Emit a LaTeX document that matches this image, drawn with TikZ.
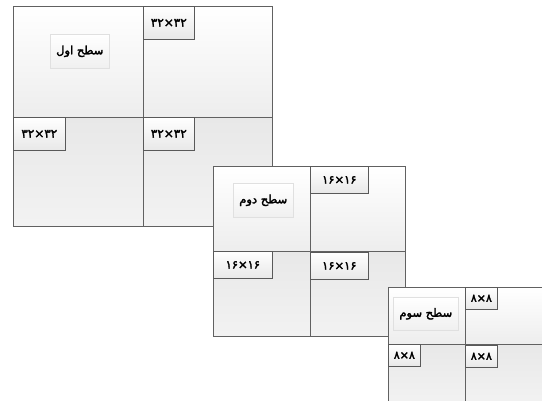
\documentclass[tikz,border=0pt]{standalone}
\usepackage{fontspec}
\newfontfamily\arabicfont[Script=Arabic,FakeBold=2.5]{DejaVu Sans}
\TeXXeTstate=1
\usetikzlibrary{shadows}
\begin{document}
\begin{tikzpicture}[x=1pt,y=-1pt,
  quadtop/.style={draw=black!62,line width=0.8pt,top color=white,bottom color=black!7,inner sep=0pt,anchor=north west},
  quadbot/.style={draw=black!62,line width=0.8pt,top color=black!9,bottom color=black!5,inner sep=0pt,anchor=north west},
  sizelbl/.style={draw=black!65,line width=0.7pt,top color=white,bottom color=black!9,inner sep=0pt,anchor=north west},
  levellbl/.style={draw=black!12,line width=0.6pt,top color=white,bottom color=black!6,inner sep=0pt,anchor=north west,font=\arabicfont\fontsize{11.5}{13}\selectfont,
    drop shadow={shadow xshift=1pt,shadow yshift=-1pt,opacity=0.12}},
  bigsz/.style={font=\arabicfont\fontsize{12}{14}\selectfont},
  midsz/.style={font=\arabicfont\fontsize{11.5}{13}\selectfont},
  smlsz/.style={font=\arabicfont\fontsize{11}{13}\selectfont}]
\useasboundingbox (0,0) rectangle (542,401);
\clip (0,0) rectangle (542,401);
% level 1
\node[quadtop,minimum width=130pt,minimum height=111pt] (a11) at (13,6) {};
\node[quadtop,minimum width=129pt,minimum height=111pt] (a12) at (143,6) {};
\node[quadbot,minimum width=130pt,minimum height=109pt] (a21) at (13,117) {};
\node[quadbot,minimum width=129pt,minimum height=109pt] (a22) at (143,117) {};
\node[levellbl,minimum width=59pt,minimum height=34pt] (l1) at (50,34) {\beginR سطح اول\endR};
\node[sizelbl,bigsz,minimum width=51pt,minimum height=33pt] (s11) at (143,6) {۳۲×۳۲};
\node[sizelbl,bigsz,minimum width=52pt,minimum height=33pt] (s12) at (13,117) {۳۲×۳۲};
\node[sizelbl,bigsz,minimum width=51pt,minimum height=33pt] (s13) at (143,117) {۳۲×۳۲};
% level 2
\node[quadtop,minimum width=97pt,minimum height=85pt] (b11) at (213,166) {};
\node[quadtop,minimum width=95pt,minimum height=85pt] (b12) at (310,166) {};
\node[quadbot,minimum width=97pt,minimum height=85pt] (b21) at (213,251) {};
\node[quadbot,minimum width=95pt,minimum height=85pt] (b22) at (310,251) {};
\node[levellbl,minimum width=60pt,minimum height=34pt] (l2) at (233,183) {\beginR سطح دوم\endR};
\node[sizelbl,midsz,minimum width=58pt,minimum height=27pt] (s21) at (310,166) {۱۶×۱۶};
\node[sizelbl,midsz,minimum width=59pt,minimum height=27pt] (s22) at (213,251) {۱۶×۱۶};
\node[sizelbl,midsz,minimum width=58pt,minimum height=27pt] (s23) at (310,252) {۱۶×۱۶};
% level 3
\node[quadtop,minimum width=77pt,minimum height=57pt] (c11) at (388,287) {};
\node[quadtop,minimum width=80pt,minimum height=57pt] (c12) at (465,287) {};
\node[quadbot,minimum width=77pt,minimum height=60pt] (c21) at (388,344) {};
\node[quadbot,minimum width=80pt,minimum height=60pt] (c22) at (465,344) {};
\node[levellbl,minimum width=65pt,minimum height=33pt] (l3) at (393,297) {\beginR سطح سوم\endR};
\node[sizelbl,smlsz,minimum width=32pt,minimum height=22pt] (s31) at (465,287) {۸×۸};
\node[sizelbl,smlsz,minimum width=32pt,minimum height=22pt] (s32) at (388,344) {۸×۸};
\node[sizelbl,smlsz,minimum width=32pt,minimum height=22pt] (s33) at (465,345) {۸×۸};
\end{tikzpicture}
\end{document}
